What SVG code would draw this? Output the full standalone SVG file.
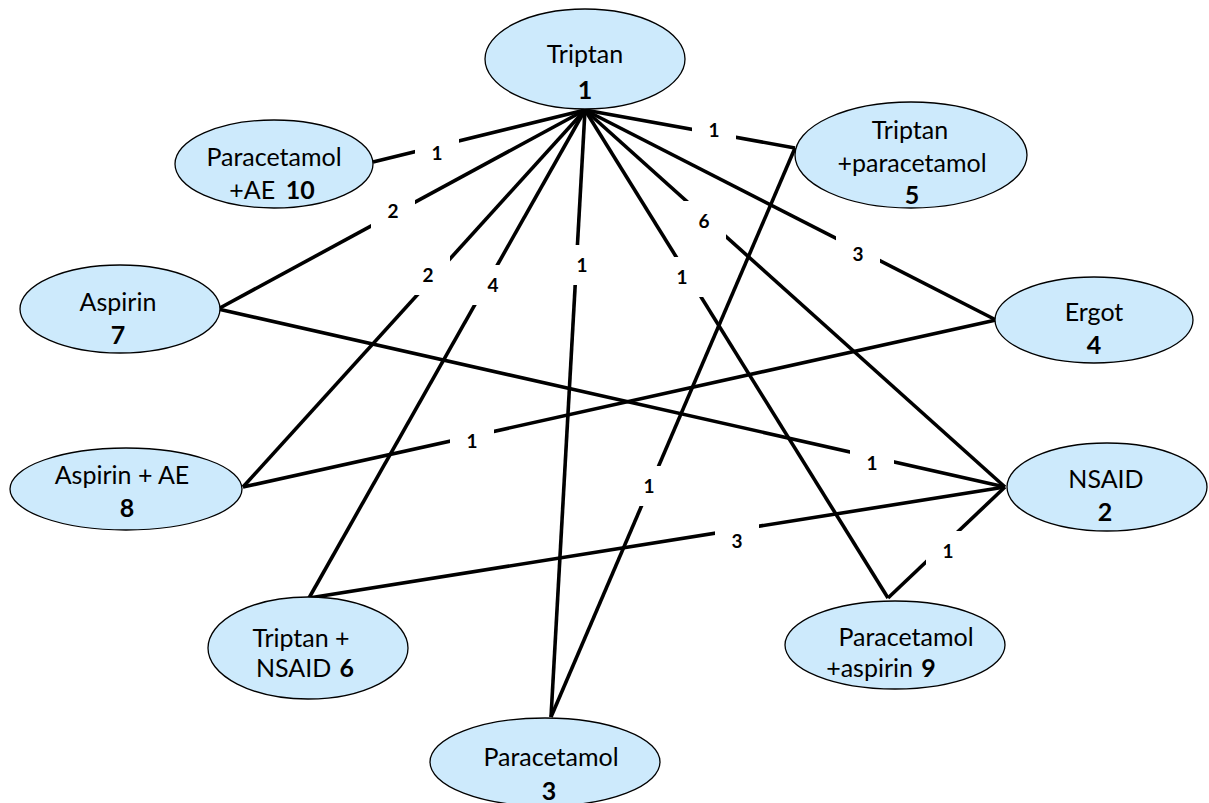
<svg xmlns="http://www.w3.org/2000/svg" width="1209" height="803" viewBox="0 0 1209 803">
  <style>
    .node ellipse { fill: #cdeafc; stroke: #000; stroke-width: 1.3; }
    .node text { font-family: Lato, "Open Sans", "Liberation Sans", sans-serif; font-size: 25px; fill: #000; text-anchor: middle; }
    .node .num { font-weight: bold; }
    .edges line { stroke: #000; stroke-width: 3.6; }
    .labels rect { fill: #fff; }
    .labels text { font-family: Lato, "Open Sans", "Liberation Sans", sans-serif; font-size: 19px; font-weight: bold; fill: #000; text-anchor: middle; }
  </style>
  <rect width="1209" height="803" fill="#fff"/>

  <!-- connectors -->
  <g id="connectors">
    <g class="edges">
      <line x1="585" y1="110" x2="373" y2="162"/>
      <line x1="585" y1="110" x2="218" y2="309"/>
      <line x1="585" y1="110" x2="243" y2="487"/>
      <line x1="585" y1="110" x2="309" y2="598"/>
      <line x1="585" y1="110" x2="551" y2="717"/>
      <line x1="585" y1="110" x2="888" y2="598"/>
      <line x1="585" y1="110" x2="1005" y2="487"/>
      <line x1="585" y1="110" x2="996" y2="320"/>
      <line x1="585" y1="110" x2="795" y2="148"/>
      <line x1="218" y1="309" x2="1005" y2="487"/>
      <line x1="996" y1="320" x2="243" y2="487"/>
      <line x1="795" y1="148" x2="551" y2="717"/>
      <line x1="1005" y1="487" x2="309" y2="598"/>
      <line x1="1005" y1="487" x2="888" y2="598"/>
    </g>
    <g class="labels">
      <rect x="415" y="133" width="44" height="40"/><text x="437" y="160">1</text>
      <rect x="371" y="191" width="44" height="40"/><text x="393" y="218">2</text>
      <rect x="406" y="255" width="44" height="40"/><text x="428" y="282">2</text>
      <rect x="471" y="265" width="44" height="40"/><text x="493" y="292">4</text>
      <rect x="560" y="245" width="44" height="40"/><text x="582" y="272">1</text>
      <rect x="660" y="257" width="44" height="40"/><text x="682" y="284">1</text>
      <rect x="682" y="201" width="44" height="40"/><text x="704" y="228">6</text>
      <rect x="836" y="234" width="44" height="40"/><text x="858" y="261">3</text>
      <rect x="692" y="110" width="44" height="40"/><text x="714" y="137">1</text>
      <rect x="850" y="443" width="44" height="40"/><text x="872" y="470">1</text>
      <rect x="450" y="421" width="44" height="40"/><text x="472" y="448">1</text>
      <rect x="627" y="466" width="44" height="40"/><text x="649" y="493">1</text>
      <rect x="715" y="521" width="44" height="40"/><text x="737" y="548">3</text>
      <rect x="926" y="531" width="44" height="40"/><text x="948" y="558">1</text>
    </g>
  </g>

  <!-- treatment nodes -->
  <g id="node-triptan" class="node">
    <ellipse cx="585" cy="59" rx="100" ry="50"/>
    <text x="585" y="63">Triptan</text>
    <text x="585" y="99" class="num">1</text>
  </g>
  <g id="node-paracetamol-ae" class="node">
    <ellipse cx="274" cy="164" rx="99" ry="44"/>
    <text x="274" y="166">Paracetamol</text>
    <text x="272" y="199">+AE <tspan class="num" dx="4">10</tspan></text>
  </g>
  <g id="node-triptan-paracetamol" class="node">
    <ellipse cx="911" cy="155" rx="116" ry="53"/>
    <text x="910" y="139">Triptan</text>
    <text x="912" y="172">+paracetamol</text>
    <text x="912" y="204" class="num">5</text>
  </g>
  <g id="node-aspirin" class="node">
    <ellipse cx="120" cy="309" rx="100" ry="44"/>
    <text x="118" y="311">Aspirin</text>
    <text x="118" y="344" class="num">7</text>
  </g>
  <g id="node-ergot" class="node">
    <ellipse cx="1094" cy="320" rx="99" ry="43"/>
    <text x="1094" y="321">Ergot</text>
    <text x="1094" y="354" class="num">4</text>
  </g>
  <g id="node-aspirin-ae" class="node">
    <ellipse cx="126" cy="489" rx="116" ry="41"/>
    <text x="122" y="484">Aspirin + AE</text>
    <text x="127" y="517" class="num">8</text>
  </g>
  <g id="node-nsaid" class="node">
    <ellipse cx="1107" cy="487" rx="100" ry="44"/>
    <text x="1106" y="488">NSAID</text>
    <text x="1105" y="521" class="num">2</text>
  </g>
  <g id="node-triptan-nsaid" class="node">
    <ellipse cx="308" cy="648" rx="100" ry="51"/>
    <text x="301" y="647">Triptan +</text>
    <text x="305" y="677">NSAID <tspan class="num" dx="2">6</tspan></text>
  </g>
  <g id="node-paracetamol-aspirin" class="node">
    <ellipse cx="895" cy="645" rx="110" ry="44"/>
    <text x="906" y="646">Paracetamol</text>
    <text x="881" y="677">+aspirin <tspan class="num" dx="2">9</tspan></text>
  </g>
  <g id="node-paracetamol" class="node">
    <ellipse cx="545" cy="762" rx="115" ry="44"/>
    <text x="551" y="766">Paracetamol</text>
    <text x="549" y="800" class="num">3</text>
  </g>
</svg>
